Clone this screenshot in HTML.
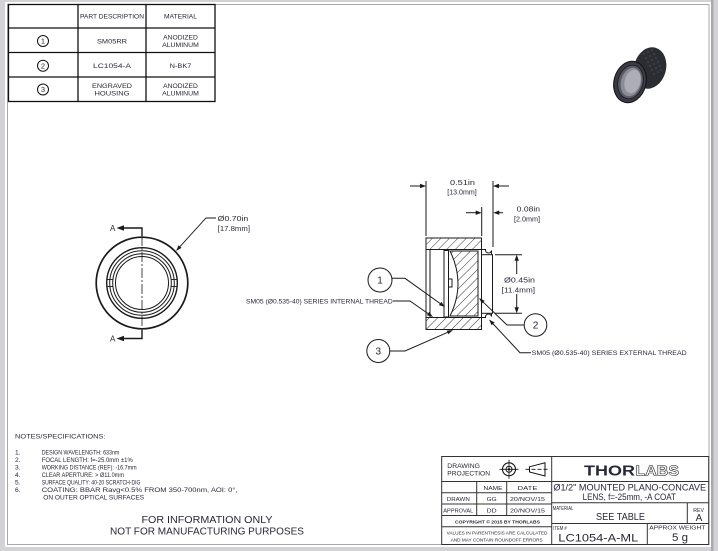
<!DOCTYPE html>
<html><head><meta charset="utf-8">
<style>
html,body{margin:0;padding:0;background:#d3d3d7;overflow:hidden;}
svg{display:block;}
text{font-family:"Liberation Sans",sans-serif;fill:#27273b;}
</style></head><body>
<svg width="718" height="551" viewBox="0 0 718 551" xmlns="http://www.w3.org/2000/svg">
<defs>
<pattern id="h" patternUnits="userSpaceOnUse" width="6" height="6" patternTransform="rotate(45)">
<rect width="6" height="6" fill="#fff"/>
<line x1="0" y1="0" x2="0" y2="6" stroke="#222" stroke-width="0.9"/>
</pattern>
</defs>
<!-- page -->
<rect x="0" y="0" width="718" height="551" fill="#d3d3d7"/>
<rect x="711" y="0" width="2.5" height="551" fill="#a9a9ae"/>
<rect x="5" y="2" width="706" height="545" fill="#fff"/>
<rect x="7.5" y="4.5" width="701.5" height="540" fill="none" stroke="#a8a8a8" stroke-width="1"/>

<!-- parts table -->
<g stroke="#111" stroke-width="1.3" fill="none">
<rect x="8.5" y="4.5" width="206.5" height="97"/>
<line x1="78" y1="4.5" x2="78" y2="101.5"/>
<line x1="146" y1="4.5" x2="146" y2="101.5"/>
<line x1="8.5" y1="28" x2="215" y2="28"/>
<line x1="8.5" y1="52.5" x2="215" y2="52.5"/>
<line x1="8.5" y1="77" x2="215" y2="77"/>
<circle cx="43" cy="41" r="5.5" stroke-width="1"/>
<circle cx="43" cy="65.7" r="5.5" stroke-width="1"/>
<circle cx="43" cy="89.5" r="5.5" stroke-width="1"/>
</g>
<g font-size="6.5" text-anchor="middle">
<text x="112" y="18.5" textLength="64" lengthAdjust="spacingAndGlyphs">PART DESCRIPTION</text>
<text x="180.5" y="18.5" textLength="33" lengthAdjust="spacingAndGlyphs">MATERIAL</text>
<text x="112" y="43.3" textLength="30" lengthAdjust="spacingAndGlyphs">SM05RR</text>
<text x="180.5" y="39.5" textLength="34.7" lengthAdjust="spacingAndGlyphs">ANODIZED</text>
<text x="180.5" y="47.2" textLength="36.7" lengthAdjust="spacingAndGlyphs">ALUMINUM</text>
<text x="112" y="68" textLength="38" lengthAdjust="spacingAndGlyphs">LC1054-A</text>
<text x="180.5" y="68" textLength="21.7" lengthAdjust="spacingAndGlyphs">N-BK7</text>
<text x="112" y="88" textLength="40" lengthAdjust="spacingAndGlyphs">ENGRAVED</text>
<text x="112" y="95.5" textLength="35" lengthAdjust="spacingAndGlyphs">HOUSING</text>
<text x="180.5" y="88" textLength="34.7" lengthAdjust="spacingAndGlyphs">ANODIZED</text>
<text x="180.5" y="95.5" textLength="36.7" lengthAdjust="spacingAndGlyphs">ALUMINUM</text>
<text x="43" y="43.6" font-size="7.5">1</text>
<text x="43" y="68.3" font-size="7.5">2</text>
<text x="43" y="92.1" font-size="7.5">3</text>
</g>

<!-- 3D view -->
<g>
<ellipse cx="650" cy="68" rx="16" ry="21" transform="rotate(15 650 68)" fill="#2c2c33"/>
<polygon points="635.4,61.7 655.4,47.7 644.6,88.3 624.6,102.3" fill="#2c2c33"/>
<g fill="#4a4a54">
<circle cx="644" cy="54" r="0.9"/><circle cx="648" cy="52" r="0.9"/><circle cx="652" cy="50" r="0.9"/>
<circle cx="646" cy="58" r="0.9"/><circle cx="650" cy="56" r="0.9"/><circle cx="654" cy="54" r="0.9"/>
<circle cx="648" cy="62" r="0.9"/><circle cx="652" cy="60" r="0.9"/><circle cx="656" cy="58" r="0.9"/>
<circle cx="650" cy="66" r="0.9"/><circle cx="654" cy="64" r="0.9"/><circle cx="658" cy="62" r="0.9"/>
<circle cx="652" cy="70" r="0.9"/><circle cx="656" cy="68" r="0.9"/><circle cx="660" cy="66" r="0.9"/>
<circle cx="654" cy="74" r="0.9"/><circle cx="658" cy="72" r="0.9"/><circle cx="661" cy="70" r="0.9"/>
</g>
<ellipse cx="630" cy="82" rx="16" ry="21" transform="rotate(15 630 82)" fill="#3a3a44" stroke="#121212" stroke-width="1"/>
<ellipse cx="630.5" cy="82" rx="12.5" ry="17" transform="rotate(15 630.5 82)" fill="#5a5a66" stroke="#1a1a1a" stroke-width="0.8"/>
<ellipse cx="631" cy="82" rx="10" ry="14.5" transform="rotate(15 631 82)" fill="#8c8c98"/>
<ellipse cx="632.5" cy="81.5" rx="7.8" ry="12" transform="rotate(15 632.5 81.5)" fill="#adadb7"/>
</g>

<!-- left view -->
<g stroke="#1a1a1a" fill="none">
<circle cx="142" cy="283" r="45.8" stroke-width="1.7"/>
<circle cx="142" cy="283" r="35.3" stroke-width="1.4"/>
<circle cx="142" cy="283" r="32.3" stroke-width="1"/>
<circle cx="142" cy="283" r="29.3" stroke-width="1"/>
<circle cx="142" cy="283" r="26.5" stroke-width="1"/>
<line x1="106.8" y1="279.5" x2="113" y2="279.5" stroke-width="0.9"/>
<line x1="106.8" y1="286.5" x2="113" y2="286.5" stroke-width="0.9"/>
<line x1="171" y1="279.5" x2="177.2" y2="279.5" stroke-width="0.9"/>
<line x1="171" y1="286.5" x2="177.2" y2="286.5" stroke-width="0.9"/>
<line x1="142" y1="236" x2="142" y2="330" stroke-width="0.8" stroke-dasharray="10 2 2 2"/>
<polyline points="120,228 142,228 142,236" stroke-width="1.4"/>
<polyline points="120,338.5 142,338.5 142,330" stroke-width="1.4"/>
<polyline points="180,246.6 206,218 216,218" stroke-width="0.9"/>
</g>
<g fill="#1a1a1a">
<polygon points="116.5,228 124,225.3 124,230.7"/>
<polygon points="116.5,338.5 124,335.8 124,341.2"/>
<polygon points="176,251 181.5,247.9 178.6,245.2"/>
</g>
<text x="110" y="231.2" font-size="8">A</text>
<text x="110" y="341.7" font-size="8">A</text>
<text x="217.7" y="221" font-size="7" textLength="30.6" lengthAdjust="spacingAndGlyphs">Ø0.70in</text>
<text x="217.7" y="231" font-size="7" textLength="32.3" lengthAdjust="spacingAndGlyphs">[17.8mm]</text>

<!-- section view -->
<g stroke="#1a1a1a" stroke-width="1" fill="none">
<rect x="426" y="238" width="55.5" height="11.5" fill="url(#h)"/>
<rect x="426" y="317.5" width="55.5" height="12" fill="url(#h)"/>
<line x1="426" y1="249.5" x2="426" y2="317.5"/>
<line x1="430" y1="249.5" x2="430" y2="317.5"/>
<line x1="481.5" y1="249.5" x2="481.5" y2="317.5"/>
<rect x="481.5" y="254.7" width="11" height="58.6"/>
<path d="M481.5 249.5 H485.5 A3 3 0 0 0 491.5 250.5 V254.7"/>
<path d="M481.5 317.5 H485.5 A3 3 0 0 1 491.5 316.5 V313.3"/>
<rect x="444" y="250.5" width="4.5" height="66.5" fill="#fff"/>
<rect x="448.5" y="279" width="3.5" height="8" fill="#fff"/>
<path d="M450 251 L478 251 L478 316 L450 316 Q466 283.5 450 251 Z" fill="url(#h)"/>
<line x1="426" y1="181" x2="426" y2="236"/>
<line x1="493" y1="181" x2="493" y2="247"/>
<line x1="410" y1="186" x2="421" y2="186"/>
<line x1="498" y1="186" x2="509" y2="186"/>
<line x1="481.7" y1="207" x2="481.7" y2="236"/>
<line x1="466" y1="212.7" x2="477" y2="212.7"/>
<line x1="498" y1="212.7" x2="503" y2="212.7"/>
<line x1="495" y1="254.7" x2="522" y2="254.7"/>
<line x1="495" y1="313.3" x2="522" y2="313.3"/>
<line x1="516.7" y1="259" x2="516.7" y2="309"/>
<circle cx="380" cy="280" r="12"/>
<polyline points="392,278.3 405,278.3 440.1,303.5"/>
<polyline points="393,301 410,301 428.1,313.6"/>
<circle cx="378.3" cy="351" r="11.5"/>
<polyline points="389.8,351 405,351 447.5,332.4"/>
<circle cx="535.5" cy="325" r="11.3"/>
<polyline points="524.2,325 507,325 483.3,302.2"/>
<polyline points="493.1,323.9 520,352.7 531,352.7"/>
</g>
<g fill="#1a1a1a">
<polygon points="426,186 420,183.8 420,188.2"/>
<polygon points="493,186 499,183.8 499,188.2"/>
<polygon points="481.7,212.7 475.7,210.5 475.7,214.9"/>
<polygon points="493.3,212.7 499.3,210.5 499.3,214.9"/>
<polygon points="516.7,254.7 514.5,260.7 518.9,260.7"/>
<polygon points="516.7,313.3 514.5,307.3 518.9,307.3"/>
<polygon points="445,307 438.9,305.1 441.3,301.9"/>
<polygon points="433,317 426.9,315.2 429.2,311.9"/>
<polygon points="453,330 448.3,334.2 446.7,330.6"/>
<polygon points="479,298 484.7,300.7 481.9,303.6"/>
<polygon points="489,319.5 494.6,322.5 491.6,325.3"/>
</g>
<rect x="502" y="274" width="34" height="20" fill="#fff"/>
<g font-size="7">
<text x="450" y="185" textLength="25" lengthAdjust="spacingAndGlyphs">0.51in</text>
<text x="447.3" y="194.3" textLength="29.4" lengthAdjust="spacingAndGlyphs">[13.0mm]</text>
<text x="516.7" y="211.5" textLength="23.3" lengthAdjust="spacingAndGlyphs">0.08in</text>
<text x="514" y="221.5" textLength="26" lengthAdjust="spacingAndGlyphs">[2.0mm]</text>
<text x="504" y="282.5" textLength="31" lengthAdjust="spacingAndGlyphs">Ø0.45in</text>
<text x="501.7" y="292.5" textLength="33.3" lengthAdjust="spacingAndGlyphs">[11.4mm]</text>
</g>
<g font-size="10" text-anchor="middle" fill="#1a1a1a">
<text x="380" y="283.6">1</text>
<text x="378.3" y="354.6">3</text>
<text x="535.5" y="328.6">2</text>
</g>
<g font-size="6.3">
<text x="246" y="303.3" textLength="146.7" lengthAdjust="spacingAndGlyphs">SM05 (Ø0.535-40) SERIES INTERNAL THREAD</text>
<text x="531.7" y="355" textLength="155" lengthAdjust="spacingAndGlyphs">SM05 (Ø0.535-40) SERIES EXTERNAL THREAD</text>
</g>

<!-- notes -->
<g font-size="6.6">
<text transform="translate(15 438.3) scale(1.118 1)">NOTES/SPECIFICATIONS:</text>
<text x="15" y="454.3">1.</text>
<text x="15" y="461.9">2.</text>
<text x="15" y="469.5">3.</text>
<text x="15" y="477">4.</text>
<text x="15" y="484.5">5.</text>
<text x="15" y="492">6.</text>
<text transform="translate(41.7 454.3) scale(0.806 1)">DESIGN WAVELENGTH: 633nm</text>
<text transform="translate(41.7 461.9) scale(0.906 1)">FOCAL LENGTH: f=-25.0mm ±1%</text>
<text transform="translate(41.7 469.5) scale(0.821 1)">WORKING DISTANCE (REF): -16.7mm</text>
<text transform="translate(41.7 477) scale(0.849 1)">CLEAR APERTURE: &gt; Ø11.0mm</text>
<text transform="translate(41.7 484.5) scale(0.77 1)">SURFACE QUALITY: 40-20 SCRATCH-DIG</text>
<text transform="translate(41.7 492) scale(1.15 1)">COATING: BBAR Ravg&lt;0.5% FROM 350-700nm, AOI: 0°,</text>
<text transform="translate(43.3 499.5) scale(0.99 1)">ON OUTER OPTICAL SURFACES</text>
</g>
<g font-size="10" text-anchor="middle">
<text x="207" y="523" textLength="131" lengthAdjust="spacingAndGlyphs">FOR INFORMATION ONLY</text>
<text x="207" y="534.7" textLength="194" lengthAdjust="spacingAndGlyphs">NOT FOR MANUFACTURING PURPOSES</text>
</g>

<!-- title block -->
<g stroke="#333" stroke-width="1" fill="none">
<rect x="441.7" y="456.5" width="267" height="88"/>
<line x1="551.7" y1="456.5" x2="551.7" y2="544.5"/>
<line x1="441.7" y1="481.5" x2="708.7" y2="481.5"/>
<line x1="441.7" y1="492.7" x2="551.7" y2="492.7"/>
<line x1="441.7" y1="504" x2="551.7" y2="504"/>
<line x1="441.7" y1="515.5" x2="551.7" y2="515.5"/>
<line x1="441.7" y1="526.7" x2="551.7" y2="526.7"/>
<line x1="476.7" y1="481.5" x2="476.7" y2="515.5"/>
<line x1="506.7" y1="481.5" x2="506.7" y2="515.5"/>
<line x1="551.7" y1="502.7" x2="708.7" y2="502.7"/>
<line x1="551.7" y1="523.5" x2="708.7" y2="523.5"/>
<line x1="687.3" y1="502.7" x2="687.3" y2="523.5"/>
<line x1="647.3" y1="523.5" x2="647.3" y2="544.5"/>
<circle cx="509" cy="469.3" r="6.5" stroke="#111" stroke-width="1.1"/>
<circle cx="509" cy="469.3" r="3" stroke="#111"/>
<line x1="499.5" y1="469.3" x2="518.5" y2="469.3" stroke="#111" stroke-width="0.8"/>
<line x1="509" y1="459.8" x2="509" y2="478.8" stroke="#111" stroke-width="0.8"/>
<polygon points="529.5,466.8 545,462.8 545,476 529.5,472" stroke="#111" stroke-width="1"/>
<line x1="525.5" y1="469.3" x2="549" y2="469.3" stroke="#111" stroke-width="0.8" stroke-dasharray="4 2"/>
</g>
<circle cx="509" cy="469.3" r="1.2" fill="#111"/>
<g font-size="6">
<text x="447.3" y="468" textLength="32.7" lengthAdjust="spacingAndGlyphs">DRAWING</text>
<text x="447.3" y="475.6" textLength="42.7" lengthAdjust="spacingAndGlyphs">PROJECTION</text>
</g>
<g font-size="5.8" text-anchor="middle">
<text x="493" y="490" textLength="19" lengthAdjust="spacingAndGlyphs">NAME</text>
<text x="527.5" y="490" textLength="20" lengthAdjust="spacingAndGlyphs">DATE</text>
<text x="458.3" y="501" textLength="23" lengthAdjust="spacingAndGlyphs">DRAWN</text>
<text x="491.7" y="501" textLength="10" lengthAdjust="spacingAndGlyphs">GG</text>
<text x="527.5" y="501" textLength="35" lengthAdjust="spacingAndGlyphs">20/NOV/15</text>
<text x="458.3" y="512.3" textLength="30" lengthAdjust="spacingAndGlyphs">APPROVAL</text>
<text x="491.7" y="512.3" textLength="10" lengthAdjust="spacingAndGlyphs">DD</text>
<text x="527.5" y="512.3" textLength="35" lengthAdjust="spacingAndGlyphs">20/NOV/15</text>
<text x="497.5" y="523.3" font-size="4.6" font-weight="bold" textLength="85" lengthAdjust="spacingAndGlyphs">COPYRIGHT © 2015 BY THORLABS</text>
<text x="497" y="534.3" font-size="4.6" textLength="100.7" lengthAdjust="spacingAndGlyphs">VALUES IN PARENTHESIS ARE CALCULATED</text>
<text x="496.7" y="541.3" font-size="4.6" textLength="92" lengthAdjust="spacingAndGlyphs">AND MAY CONTAIN ROUNDOFF ERRORS</text>
</g>
<text x="584" y="475.5" font-size="15" font-weight="bold" fill="#111" textLength="51" lengthAdjust="spacingAndGlyphs">THOR</text>
<text x="635.5" y="475.5" font-size="15" font-weight="bold" fill="#fff" stroke="#111" stroke-width="0.55" textLength="43.5" lengthAdjust="spacingAndGlyphs" style="fill:#fff">LABS</text>
<g text-anchor="middle">
<text x="629.7" y="490.5" font-size="9" textLength="152.7" lengthAdjust="spacingAndGlyphs">Ø1/2" MOUNTED PLANO-CONCAVE</text>
<text x="629.3" y="499.8" font-size="9" textLength="93.3" lengthAdjust="spacingAndGlyphs">LENS, f=-25mm, -A COAT</text>
<text x="620.5" y="520" font-size="10" textLength="49" lengthAdjust="spacingAndGlyphs">SEE TABLE</text>
<text x="699" y="520.8" font-size="10">A</text>
<text x="598.3" y="541.6" font-size="11" textLength="80" lengthAdjust="spacingAndGlyphs">LC1054-A-ML</text>
<text x="680" y="541" font-size="11" textLength="16" lengthAdjust="spacingAndGlyphs">5 g</text>
</g>
<g font-size="5.6">
<text x="552.7" y="510" textLength="20.7" lengthAdjust="spacingAndGlyphs">MATERIAL</text>
<text x="693.3" y="511.8" textLength="10.7" lengthAdjust="spacingAndGlyphs">REV</text>
<text x="553.3" y="529.8" textLength="13.4" lengthAdjust="spacingAndGlyphs">ITEM #</text>
<text x="649.3" y="529.5" textLength="56" lengthAdjust="spacingAndGlyphs">APPROX WEIGHT</text>
</g>
</svg>
</body></html>
